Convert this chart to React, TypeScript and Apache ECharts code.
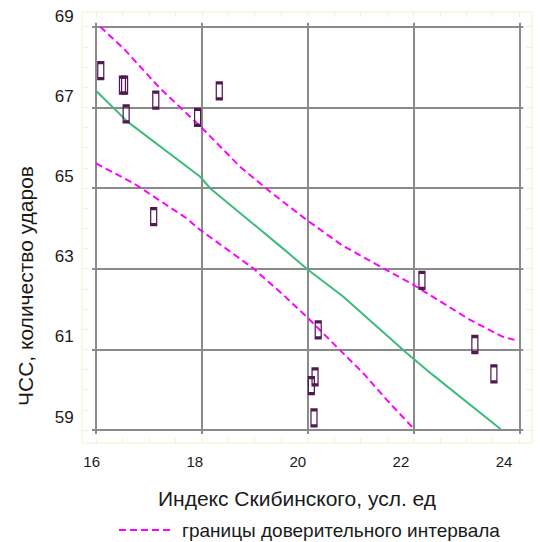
import React, { useEffect, useRef } from "react";
import * as echarts from "echarts";

// ---- data ----
const xTickValues = [16, 18, 20, 22, 24];
const yTickValues = [59, 61, 63, 65, 67, 69];

const pointsX = [16.09, 16.5, 16.54, 16.57, 17.13, 17.92, 18.33, 17.09, 22.16, 20.2, 20.14, 20.07, 20.12, 23.16, 23.52];
const pointsY = [67.91, 67.55, 67.55, 66.84, 67.18, 66.75, 67.41, 64.29, 62.71, 61.48, 60.32, 60.1, 59.3, 61.12, 60.39];

const fitX = [16.0, 16.6, 17.97, 18.16, 19.57, 20.0, 20.67, 21.87, 22.37, 23.65];
const fitY = [67.41, 66.64, 65.28, 64.99, 63.46, 62.98, 62.31, 60.91, 60.36, 59.02];

const upperX = [16.08, 16.55, 17.21, 17.98, 18.72, 19.29, 19.98, 20.64, 21.43, 22.0, 23.07, 23.69, 23.98];
const upperY = [69.0, 68.42, 67.47, 66.52, 65.53, 64.91, 64.21, 63.59, 63.01, 62.6, 61.73, 61.31, 61.21];

const lowerX = [16.0, 16.71, 17.71, 17.97, 18.97, 19.54, 19.98, 20.61, 21.05, 21.5, 22.0];
const lowerY = [65.61, 65.12, 64.25, 63.96, 63.01, 62.35, 61.81, 60.98, 60.41, 59.74, 59.04];

const frameXTicks = [16, 16.5, 17, 17.5, 18, 18.5, 19, 19.5, 20, 20.5, 21, 21.5, 22, 22.5, 23, 23.5, 24];
const frameYTicks = [59, 59.5, 60, 60.5, 61, 61.5, 62, 62.5, 63, 63.5, 64, 64.5, 65, 65.5, 66, 66.5, 67, 67.5, 68, 68.5, 69];

const xName = "Индекс Скибинского, усл. ед";
const yName = "ЧСС, количество ударов";
const bandName = "границы доверительного интервала";

const FONT = "'Liberation Sans', Arial, sans-serif";
const TEXT = "#1a1a1a";
const GRID = "#8a8a8a";
const YELLOW = "#f7f1c4";
const MAGENTA = "#ff00ff";
const GREEN = "#3dbb7a";
const PURPLE = "#4f1a4f";

const zip = (xs: number[], ys: number[]) => xs.map((x, i) => [x, ys[i]]);

export default function App() {
  const ref = useRef<HTMLDivElement>(null);
  useEffect(() => {
    if (!ref.current) return;
    const chart = echarts.init(ref.current, null, { renderer: "svg" });
    const mainAxisCommon = {
      type: "value" as const,
      axisLine: { show: true, lineStyle: { color: GRID, width: 2 } },
      axisTick: { show: true, inside: false, length: 4, lineStyle: { color: GRID, width: 2 } },
      axisLabel: { show: false },
    };
    const frameAxisCommon = {
      type: "value" as const,
      axisLine: { show: false },
      axisLabel: { show: false },
      splitLine: { show: false },
    };
    chart.setOption({
      animation: false,
      backgroundColor: "#ffffff",
      textStyle: { fontFamily: FONT, color: TEXT },
      grid: [
        { left: 96, top: 26.7, right: 20.7, bottom: 112 },
        { left: 82, top: 12, right: 8, bottom: 99, show: true, borderColor: YELLOW, borderWidth: 1, backgroundColor: "transparent" },
        { left: 91.7, top: 16, right: 36, bottom: 125 },
      ],
      xAxis: [
        { ...mainAxisCommon, gridIndex: 0, position: "bottom", min: 16, max: 24, interval: 2, splitLine: { show: true, lineStyle: { color: GRID, width: 2 } } },
        { ...mainAxisCommon, gridIndex: 0, position: "top", min: 16, max: 24, interval: 2, splitLine: { show: false } },
        { ...frameAxisCommon, gridIndex: 1, position: "bottom", min: 15.735, max: 24.242, axisTick: { show: true, inside: true, length: 5, customValues: frameXTicks, lineStyle: { color: YELLOW, width: 1 } } },
        { ...frameAxisCommon, gridIndex: 1, position: "top", min: 15.735, max: 24.242, axisTick: { show: true, inside: true, length: 5, customValues: frameXTicks, lineStyle: { color: YELLOW, width: 1 } } },
        {
          type: "value", gridIndex: 2, position: "bottom", min: 16, max: 24, interval: 2, offset: 35,
          axisLine: { show: false }, axisTick: { show: false }, splitLine: { show: false },
          axisLabel: { show: true, margin: 2, fontSize: 15, color: TEXT, fontFamily: FONT, customValues: xTickValues },
        },
      ],
      yAxis: [
        { ...mainAxisCommon, gridIndex: 0, position: "left", min: 59, max: 69, interval: 2, splitLine: { show: true, lineStyle: { color: GRID, width: 2 } } },
        { ...mainAxisCommon, gridIndex: 0, position: "right", min: 59, max: 69, interval: 2, splitLine: { show: false } },
        { ...frameAxisCommon, gridIndex: 1, position: "left", min: 58.678, max: 69.364, axisTick: { show: true, inside: true, length: 6, customValues: frameYTicks, lineStyle: { color: YELLOW, width: 1 } } },
        { ...frameAxisCommon, gridIndex: 1, position: "right", min: 58.678, max: 69.364, axisTick: { show: true, inside: true, length: 6, customValues: frameYTicks, lineStyle: { color: YELLOW, width: 1 } } },
        {
          type: "value", gridIndex: 2, position: "left", min: 59, max: 69, interval: 2,
          axisLine: { show: false }, axisTick: { show: false }, splitLine: { show: false },
          axisLabel: { show: true, margin: 18, fontSize: 17, color: TEXT, fontFamily: FONT, customValues: yTickValues },
        },
      ],
      legend: {
        left: 118,
        top: 520,
        padding: 0,
        itemWidth: 54,
        itemHeight: 10,
        itemGap: 10,
        data: [bandName],
        itemStyle: { color: "transparent", borderWidth: 0, opacity: 0 },
        textStyle: { fontSize: 19, lineHeight: 20, color: TEXT, fontFamily: FONT, padding: [0, 0, 0, 4] },
      },
      series: [
        {
          name: bandName, type: "line", xAxisIndex: 0, yAxisIndex: 0, data: zip(upperX, upperY),
          symbol: "none", lineStyle: { color: MAGENTA, width: 2, type: [7, 4] }, itemStyle: { color: MAGENTA }, z: 3,
        },
        {
          name: bandName, type: "line", xAxisIndex: 0, yAxisIndex: 0, data: zip(lowerX, lowerY),
          symbol: "none", lineStyle: { color: MAGENTA, width: 2, type: [7, 4] }, itemStyle: { color: MAGENTA }, z: 3,
        },
        {
          name: "fit", type: "line", xAxisIndex: 0, yAxisIndex: 0, data: zip(fitX, fitY),
          symbol: "none", lineStyle: { color: GREEN, width: 2 }, itemStyle: { color: GREEN }, z: 3,
        },
        {
          name: "points", type: "scatter", xAxisIndex: 0, yAxisIndex: 0, data: zip(pointsX, pointsY),
          symbol: "rect", symbolSize: [6, 16],
          itemStyle: { color: "rgba(255,255,255,0)", borderColor: PURPLE, borderWidth: 2, opacity: 1 }, z: 4,
        },
      ],
      graphic: [
        {
          type: "text", x: 297, y: 498,
          style: { text: xName, fontSize: 21, fontFamily: FONT, fill: TEXT, align: "center", verticalAlign: "middle" },
        },
        {
          type: "text", x: 25, y: 286, rotation: Math.PI / 2,
          style: { text: yName, fontSize: 21, fontFamily: FONT, fill: TEXT, align: "center", verticalAlign: "middle" },
        },
      ],
    });
    return () => chart.dispose();
  }, []);
  return <div ref={ref} style={{ position: "fixed", left: 0, top: 0, width: 540, height: 542 }} />;
}
